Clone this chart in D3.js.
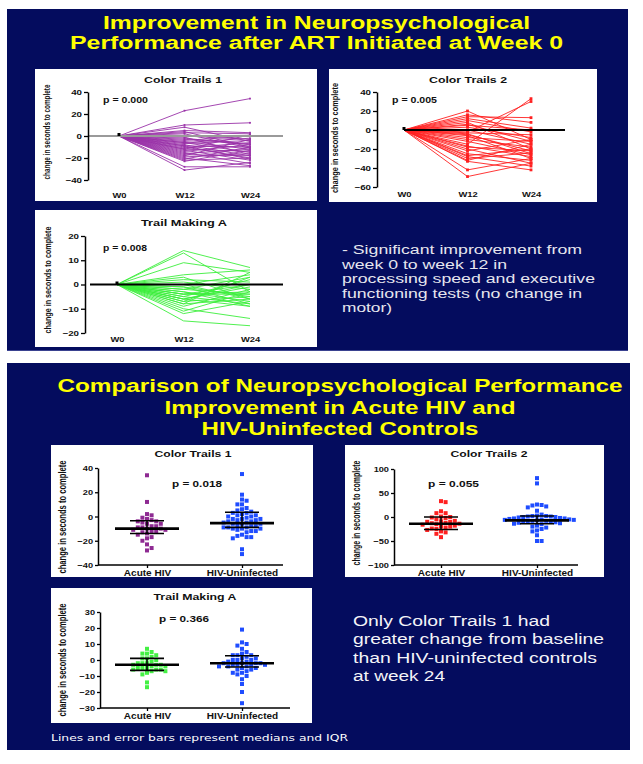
<!DOCTYPE html>
<html><head><meta charset="utf-8">
<script src="https://cdn.jsdelivr.net/npm/d3@7"></script>
<style>html,body{margin:0;padding:0;background:#fff;} svg{display:block}</style>
</head><body>
<svg id="c" width="643" height="764"></svg>
<script>
// ---------------- DATA ----------------
const weeks = ["W0", "W12", "W24"];
const groups = ["Acute HIV", "HIV-Uninfected"];

// Top: change from baseline per subject (W0 = 0 baseline)
const ct1W12 = [23, 10, 8, 5, 4, 3, 0, -2, -4, -5, -6, -7, -8, -9, -10, -11, -12, -13, -14, -15, -16, -17, -18, -19, -20, -21, -22, -23, -28, -31, -1, -3, 2, -6, -9, -12];
const ct1W24 = [34, 12, -5, 3, -10, 2, -3, -8, 0, -12, -15, -4, -18, -10, -20, -6, -14, -22, -8, -25, -12, -18, -3, -16, -27, -10, -20, -13, -28, -24, -17, -7, -11, -2, -21, 1];

const ct2W12 = [20, 16, 14, 12, 10, 8, 5, 3, 0, -2, -4, -5, -6, -8, -10, -15, -17, -20, -22, -25, -27, -28, -30, -32, -33, -42, -49, -3, -12, -18, 6];
const ct2W24 = [-10, 8, 13, 2, -2, -20, 0, -8, -15, 30, -25, -22, -30, -12, -18, 33, -28, -35, -10, -32, -20, -38, -24, -15, -42, -30, -35, -5, -26, -22, -12];

const tmaW12 = [14, 13, 9, 4, 3, 2, 1, 0, -1, -2, -3, -4, -4, -5, -5, -6, -6, -7, -7, -8, -9, -10, -11, -12, -15, -3, -2, 0, -1, -8, -6, -4];
const tmaW24 = [7, -3, 5, 6, -6, 1, -2, 4, -5, 3, -7, 0, -4, -8, 2, -1, -9, -5, 3, -6, -2, -14, -3, -7, -17, -9, -4, -6, -8, 5, 0, -3];

// Bottom: week-24 change, Acute HIV vs HIV-uninfected
const ct1Acute = [34, 12, 2, 1, -1, -2, -3, -4, -5, -6, -6, -8, -8, -9, -10, -10, -11, -11, -12, -12, -13, -14, -15, -17, -18, -20, -23, -26, -28, -9, -4];
const ct1Uninf = [35, 18, 14, 13, 10, 10, 7, 6, 5, 4, 3, 3, 2, 1, 0, 0, -1, -2, -2, -3, -3, -4, -5, -5, -6, -6, -7, -8, -8, -9, -9, -10, -10, -10, -11, -12, -12, -13, -15, -16, -17, -17, -18, -27, -31, -4, -6, -2, -9, 1];
const ct1Median = [-10, -5.5];
const ct1Q1 = [-14, -9];
const ct1Q3 = [-3.5, 3.5];

const ct2Acute = [33, 31, 12, 8, 8, 1, 0, -1, -2, -5, -8, -9, -10, -12, -13, -14, -15, -16, -18, -20, -22, -24, -25, -27, -30, -32, -35, -42, -10, -20];
const ct2Uninf = [81, 70, 26, 25, 24, 22, 20, 13, 5, 3, 2, 2, 1, 0, 0, -1, -2, -3, -4, -5, -6, -7, -8, -9, -10, -10, -11, -12, -13, -14, -15, -18, -20, -22, -25, -28, -30, -38, -50, -50, -5, -8, -3, 1, -6];
const ct2Median = [-14, -7];
const ct2Q1 = [-26, -14];
const ct2Q3 = [0, 2];

const tmaAcute = [7, 5, 4, 4, 3, 2, 1, 1, 0, -1, -2, -2, -3, -3, -3, -4, -4, -5, -5, -6, -6, -6, -7, -7, -8, -9, -14, -17, -2, -5];
const tmaUninf = [19, 11, 10, 9, 7, 5, 4, 3, 3, 2, 1, 0, 0, -1, -1, -2, -2, -2, -3, -3, -3, -4, -4, -4, -5, -5, -6, -6, -7, -8, -8, -9, -10, -12, -15, -20, -27, 3, 0, -3, -2, 1];
const tmaMedian = [-3, -2];
const tmaQ1 = [-6.5, -4.4];
const tmaQ3 = [1, 2.7];

// ---------------- DRAWING ----------------
const svg = d3.select("#c");
const NAVY = "#040c5e";
const FONT = "'Liberation Sans', Arial, Helvetica, sans-serif";
const PURPLE = "#9a32a8", RED = "#ff2020", GREEN = "#3cee3c", BLUE = "#1f4dff";

svg.append("rect").attr("width", 643).attr("height", 764).attr("fill", "#fff");

function stretchTo(sel, w) { sel.attr("textLength", w).attr("lengthAdjust", "spacingAndGlyphs"); }
function stretchBy(sel, k) {
  sel.each(function () {
    const L = this.getComputedTextLength();
    d3.select(this).attr("textLength", L * k).attr("lengthAdjust", "spacingAndGlyphs");
  });
}
function text(parent, x, y, s, o) {
  const t = parent.append("text").attr("x", x).attr("y", y).text(s)
    .attr("font-family", o.family || FONT).attr("font-size", o.size)
    .attr("font-weight", o.weight || "normal").attr("fill", o.fill || "#000")
    .attr("text-anchor", o.anchor || "start");
  if (o.w) stretchTo(t, o.w); else if (o.k) stretchBy(t, o.k);
  return t;
}
function yLabel(parent, x, cy, len, size) {
  parent.append("text").attr("transform", `translate(${x},${cy}) rotate(-90) scale(1,1.3)`)
    .attr("text-anchor", "middle").attr("font-family", FONT).attr("font-weight", "bold")
    .attr("font-size", size).attr("fill", "#111")
    .attr("textLength", len).attr("lengthAdjust", "spacingAndGlyphs")
    .text("change in seconds to complete");
}
function styleAxis(g, size, k) {
  g.attr("font-family", FONT).attr("font-size", size).attr("font-weight", "bold");
  g.selectAll("text").attr("fill", "#111");
  g.selectAll("line").attr("stroke", "#000").attr("stroke-width", 1.3);
  g.select(".domain").attr("stroke", "#000").attr("stroke-width", 1.5);
  stretchBy(g.selectAll("text"), k);
}

// Panels
svg.append("rect").attr("x", 7).attr("y", 9).attr("width", 621).attr("height", 342).attr("fill", NAVY);
svg.append("line").attr("x1", 7).attr("x2", 628).attr("y1", 350.5).attr("y2", 350.5).attr("stroke", "#3a4290").attr("stroke-width", 1);
svg.append("rect").attr("x", 7).attr("y", 363).attr("width", 623).attr("height", 387).attr("fill", NAVY);

// Slide titles
const YEL = "#ffff00";
text(svg, 316.5, 28.5, "Improvement in Neuropsychological", { size: 18, weight: "bold", fill: YEL, anchor: "middle", w: 427 });
text(svg, 316.5, 48.5, "Performance after ART Initiated at Week 0", { size: 18, weight: "bold", fill: YEL, anchor: "middle", w: 493 });
text(svg, 340, 391.5, "Comparison of Neuropsychological Performance", { size: 18, weight: "bold", fill: YEL, anchor: "middle", w: 565 });
text(svg, 340, 413.5, "Improvement in Acute HIV and", { size: 18, weight: "bold", fill: YEL, anchor: "middle", w: 351 });
text(svg, 340, 434.5, "HIV-Uninfected Controls", { size: 18, weight: "bold", fill: YEL, anchor: "middle", w: 277 });

// ---- line (spaghetti) charts ----
function lineChart(cfg) {
  const g = svg.append("g");
  g.append("rect").attr("x", cfg.box[0]).attr("y", cfg.box[1]).attr("width", cfg.box[2]).attr("height", cfg.box[3]).attr("fill", "#fff");
  const y = d3.scaleLinear().domain(cfg.yDomain).range(cfg.yRange);
  const x = d3.scalePoint().domain(weeks).range(cfg.xRange);
  const line = d3.line().x(d => x(d[0])).y(d => y(d[1]));
  const subj = cfg.w12.map((v, i) => [["W0", 0], ["W12", v], ["W24", cfg.w24[i]]]);
  g.append("g").selectAll("path").data(subj).join("path")
    .attr("d", line).attr("fill", "none").attr("stroke", cfg.color).attr("stroke-width", 0.9);
  if (cfg.marker) {
    const pts = subj.flatMap(s => s.slice(1));
    g.append("g").selectAll("rect").data(pts).join("rect")
      .attr("x", d => x(d[0]) - cfg.marker / 2).attr("y", d => y(d[1]) - cfg.marker / 2)
      .attr("width", cfg.marker).attr("height", cfg.marker).attr("fill", cfg.color);
  }
  g.append("line").attr("x1", cfg.zero[0]).attr("x2", cfg.zero[1]).attr("y1", y(0)).attr("y2", y(0))
    .attr("stroke", cfg.zeroColor).attr("stroke-width", 2);
  g.append("rect").attr("x", x("W0") - 1.5).attr("y", y(0) - 3).attr("width", 3).attr("height", 3).attr("fill", "#000");
  const ax = g.append("g").attr("transform", `translate(${cfg.axisX},0)`)
    .call(d3.axisLeft(y).tickValues(cfg.ticks).tickSize(4).tickSizeOuter(0).tickPadding(2));
  styleAxis(ax, 7.5, 1.3);
  const xb = g.append("g").attr("transform", `translate(0,${cfg.labelY})`)
    .call(d3.axisBottom(x).tickSize(0).tickPadding(0));
  xb.select(".domain").remove();
  styleAxis(xb, 7.5, 1.25);
  text(g, cfg.title[0], cfg.title[1], cfg.title[2], { size: 9, weight: "bold", anchor: "middle", w: cfg.title[3], fill: "#111" });
  text(g, cfg.p[0], cfg.p[1], cfg.p[2], { size: 9, weight: "bold", w: cfg.p[3], fill: "#111" });
  yLabel(g, cfg.yl[0], cfg.yl[1], cfg.yl[2], 7.5);
}

lineChart({ box: [35, 69, 282, 132], yDomain: [-40, 40], yRange: [180, 92], xRange: [119, 250],
  w12: ct1W12, w24: ct1W24, color: PURPLE, marker: 1.8, zero: [88, 283], zeroColor: "#9a9a9a",
  axisX: 88, ticks: [-40, -20, 0, 20, 40], labelY: 193,
  title: [183, 82.5, "Color Trails 1", 78], p: [103, 103.3, "p = 0.000", 45], yl: [50, 132, 95] });

lineChart({ box: [329, 69, 268, 133], yDomain: [-60, 40], yRange: [187, 92], xRange: [404, 531],
  w12: ct2W12, w24: ct2W24, color: RED, marker: 2.8, zero: [404, 565], zeroColor: "#000",
  axisX: 377, ticks: [-60, -40, -20, 0, 20, 40], labelY: 191.5,
  title: [468, 82.5, "Color Trails 2", 78], p: [392, 103.3, "p = 0.005", 45], yl: [338, 138, 110] });

lineChart({ box: [35, 210, 282, 137], yDomain: [-20, 20], yRange: [333, 236], xRange: [117, 250],
  w12: tmaW12, w24: tmaW24, color: GREEN, marker: 0, zero: [90, 283], zeroColor: "#000",
  axisX: 85, ticks: [-20, -10, 0, 10, 20], labelY: 337,
  title: [184, 225.5, "Trail Making A", 86], p: [103, 251.3, "p = 0.008", 44], yl: [51, 280, 107] });

// ---- scatter (median + IQR) charts ----
function swarm(vals, y, cx, d) {
  const placed = [];
  const sorted = vals.map(v => ({ v, py: y(v) })).sort((a, b) => a.py - b.py);
  for (const p of sorted) {
    let k = 0, off = 0;
    while (true) {
      off = k === 0 ? 0 : (k % 2 ? 1 : -1) * Math.ceil(k / 2) * d;
      const px = cx + off;
      if (!placed.some(q => Math.abs(q.px - px) < d - 0.01 && Math.abs(q.py - p.py) < d)) break;
      k++;
    }
    p.px = cx + off; placed.push(p);
  }
  return placed;
}

function scatterChart(cfg) {
  const g = svg.append("g");
  g.append("rect").attr("x", cfg.box[0]).attr("y", cfg.box[1]).attr("width", cfg.box[2]).attr("height", cfg.box[3]).attr("fill", "#fff");
  const y = d3.scaleLinear().domain(cfg.yDomain).range(cfg.yRange);
  const x = d3.scalePoint().domain(groups).range(cfg.xRange);
  const sets = [cfg.a, cfg.b], cols = [cfg.colA, BLUE];
  sets.forEach((vals, i) => {
    const pts = swarm(vals, y, x(groups[i]), 4.6);
    g.append("g").selectAll("rect").data(pts).join("rect")
      .attr("x", d => d.px - 2).attr("y", d => d.py - 2).attr("width", 4).attr("height", 4).attr("fill", cols[i]);
  });
  groups.forEach((gr, i) => {
    const cx = x(gr);
    g.append("line").attr("x1", cx).attr("x2", cx).attr("y1", y(cfg.q1[i])).attr("y2", y(cfg.q3[i]))
      .attr("stroke", "#000").attr("stroke-width", 1.6);
    [cfg.q1[i], cfg.q3[i]].forEach(v => g.append("line").attr("x1", cx - 17).attr("x2", cx + 17)
      .attr("y1", y(v)).attr("y2", y(v)).attr("stroke", "#000").attr("stroke-width", 1.6));
    g.append("line").attr("x1", cx - 32).attr("x2", cx + 32).attr("y1", y(cfg.med[i])).attr("y2", y(cfg.med[i]))
      .attr("stroke", "#000").attr("stroke-width", 2.6);
  });
  const ax = g.append("g").attr("transform", `translate(${cfg.axisX},0)`)
    .call(d3.axisLeft(y).tickValues(cfg.ticks).tickSize(3).tickSizeOuter(0).tickPadding(2));
  styleAxis(ax, 8, 1.15);
  const xb = g.append("g").attr("transform", `translate(0,${cfg.yRange[0]})`)
    .call(d3.axisBottom(x).tickSize(3).tickSizeOuter(0).tickPadding(2));
  xb.select(".domain").attr("d", `M${cfg.axisX},0H${cfg.xEnd}`);
  styleAxis(xb, 8.5, 1.18);
  text(g, cfg.title[0], cfg.title[1], cfg.title[2], { size: 9, weight: "bold", anchor: "middle", w: cfg.title[3], fill: "#111" });
  text(g, cfg.p[0], cfg.p[1], cfg.p[2], { size: 9.5, weight: "bold", w: cfg.p[3], fill: "#111" });
  yLabel(g, cfg.yl[0], cfg.yl[1], cfg.yl[2], 7.8);
}

scatterChart({ box: [51, 445, 262, 132], yDomain: [-40, 40], yRange: [565, 468], xRange: [147, 242],
  a: ct1Acute, b: ct1Uninf, colA: "#8e2a92", med: ct1Median, q1: ct1Q1, q3: ct1Q3,
  axisX: 98, xEnd: 283, ticks: [-40, -20, 0, 20, 40],
  title: [193, 457, "Color Trails 1", 77], p: [172, 486.5, "p = 0.018", 50], yl: [66, 517, 113] });

scatterChart({ box: [345, 445, 259, 132], yDomain: [-100, 100], yRange: [565, 469], xRange: [441, 537],
  a: ct2Acute, b: ct2Uninf, colA: RED, med: ct2Median, q1: ct2Q1, q3: ct2Q3,
  axisX: 394, xEnd: 578, ticks: [-100, -50, 0, 50, 100],
  title: [489, 457, "Color Trails 2", 77], p: [428, 486.5, "p = 0.055", 51], yl: [360, 513, 105] });

scatterChart({ box: [51, 588, 261, 135], yDomain: [-30, 30], yRange: [708, 612], xRange: [147, 242],
  a: tmaAcute, b: tmaUninf, colA: "#44f044", med: tmaMedian, q1: tmaQ1, q3: tmaQ3,
  axisX: 100, xEnd: 290, ticks: [-30, -20, -10, 0, 10, 20, 30],
  title: [195, 600, "Trail Making A", 83], p: [159, 621.5, "p = 0.366", 50], yl: [66, 660, 113] });

// ---- slide notes ----
const note1 = ["- Significant improvement from", "week 0 to week 12 in", "processing speed and executive", "functioning tests (no change in", "motor)"];
const note1W = [240, 165, 253, 240, 50];
note1.forEach((s, i) => text(svg, 342, 254 + i * 14.5, s, { size: 12, fill: "#e6e6ee", w: note1W[i] }));

const note2 = ["Only Color Trails 1 had", "greater change from baseline", "than HIV-uninfected controls", "at week 24"];
const note2W = [197, 251, 244, 92];
note2.forEach((s, i) => text(svg, 353, 626 + i * 18.3, s, { size: 14, fill: "#f4f4f8", w: note2W[i] }));

text(svg, 51, 741, "Lines and error bars represent medians and IQR", { size: 9.5, fill: "#fff", family: "'DejaVu Sans', Verdana, sans-serif", w: 297 });
</script>
</body></html>
